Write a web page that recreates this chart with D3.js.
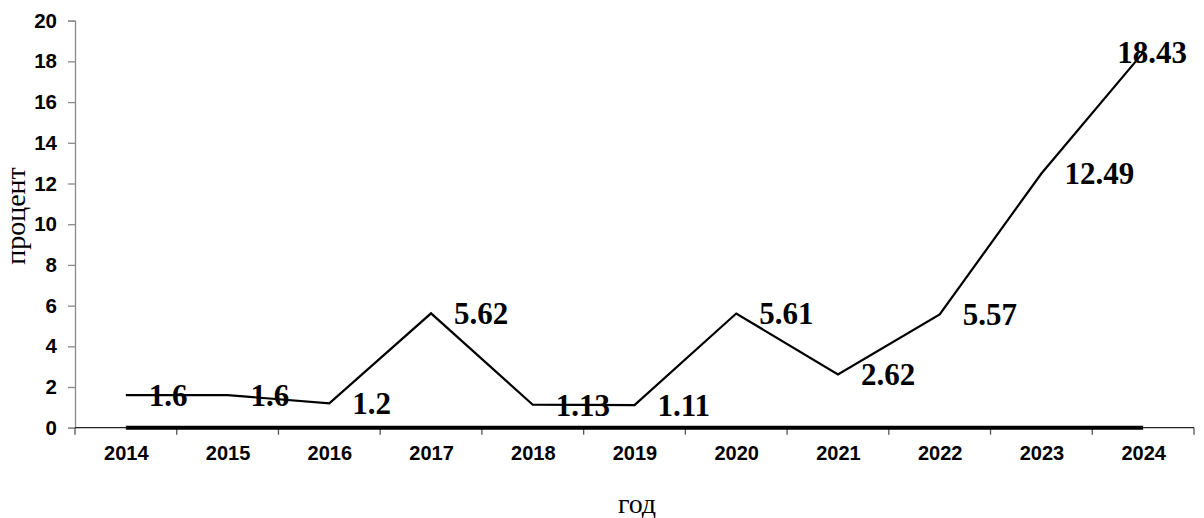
<!DOCTYPE html>
<html>
<head>
<meta charset="utf-8">
<script src="https://cdn.jsdelivr.net/npm/d3@7"></script>
<style>
  body { margin: 0; background: #fff; }
  svg { display: block; }
</style>
</head>
<body>
<div id="chart"></div>
<script>
// data
const years = ['2014','2015','2016','2017','2018','2019','2020','2021','2022','2023','2024'];
const values = [1.6, 1.6, 1.2, 5.62, 1.13, 1.11, 5.61, 2.62, 5.57, 12.49, 18.43];
const baseline = [0, 0, 0, 0, 0, 0, 0, 0, 0, 0, 0];
const yTicks = [0, 2, 4, 6, 8, 10, 12, 14, 16, 18, 20];

const W = 1204, H = 518;
const plotLeft = 75, plotRight = 1194, plotTop = 20.7, plotBottom = 427.7;

const svg = d3.select('#chart').append('svg')
  .attr('width', W).attr('height', H);

const x = d3.scaleBand().domain(years).range([plotLeft, plotRight]).padding(0);
const y = d3.scaleLinear().domain([0, 20]).range([plotBottom, plotTop]);
const cx = d => x(d) + x.bandwidth() / 2;

// Y axis
const yAxis = svg.append('g')
  .attr('transform', `translate(${plotLeft},0)`)
  .call(d3.axisLeft(y).tickValues(yTicks).tickSize(7).tickPadding(11).tickFormat(d3.format('d')));
yAxis.select('.domain').attr('stroke', '#8a8a8a').attr('stroke-width', 1.3);
yAxis.selectAll('.tick line').attr('stroke', '#8a8a8a').attr('stroke-width', 1.3);
yAxis.selectAll('text')
  .attr('font-family', 'Liberation Sans, Arial, sans-serif')
  .attr('font-weight', 'bold').attr('font-size', 20.5).attr('fill', '#000');

// X axis: labels at band centres, ticks at band edges
const xAxis = svg.append('g')
  .attr('transform', `translate(0,${plotBottom})`)
  .call(d3.axisBottom(d3.scalePoint().domain(years).range([cx(years[0]), cx(years[years.length - 1])]))
    .tickSize(0).tickPadding(18));
xAxis.select('.domain').remove();
xAxis.selectAll('text')
  .attr('font-family', 'Liberation Sans, Arial, sans-serif')
  .attr('font-weight', 'bold').attr('font-size', 20).attr('fill', '#000');

const edges = years.map(d => x(d)).concat([plotRight]);
svg.append('line')
  .attr('x1', plotLeft).attr('x2', plotRight).attr('y1', plotBottom).attr('y2', plotBottom)
  .attr('stroke', '#222').attr('stroke-width', 1.3);
svg.append('g').selectAll('line')
  .data(edges)
  .join('line')
  .attr('x1', d => d).attr('x2', d => d)
  .attr('y1', plotBottom).attr('y2', plotBottom + 7)
  .attr('stroke', '#555').attr('stroke-width', 1.3);

// axis titles
svg.append('text')
  .attr('transform', `translate(25,216) rotate(-90)`)
  .attr('text-anchor', 'middle')
  .attr('font-family', 'Liberation Serif, Times New Roman, serif')
  .attr('font-size', 28)
  .text('процент');
svg.append('text')
  .attr('x', 637).attr('y', 513)
  .attr('text-anchor', 'middle')
  .attr('font-family', 'Liberation Serif, Times New Roman, serif')
  .attr('font-size', 28)
  .text('год');

const line = d3.line().x((d, i) => cx(years[i])).y(d => y(d));

// zero series (thick)
svg.append('path')
  .datum(baseline)
  .attr('d', line)
  .attr('fill', 'none').attr('stroke', '#000').attr('stroke-width', 4);

// main series
svg.append('path')
  .datum(values)
  .attr('d', line)
  .attr('fill', 'none').attr('stroke', '#000').attr('stroke-width', 2.2)
  .attr('stroke-linejoin', 'miter');

// value labels
const labels = svg.append('g').selectAll('text')
  .data(values)
  .join('text')
  .attr('x', (d, i) => cx(years[i]) + 23)
  .attr('y', d => y(d))
  .attr('dy', '0.35em')
  .attr('font-family', 'Liberation Serif, Times New Roman, serif')
  .attr('font-weight', 'bold').attr('font-size', 31).attr('fill', '#000')
  .text(d => String(d));

// keep labels inside the picture
labels.each(function() {
  const w = this.getComputedTextLength();
  const xx = +this.getAttribute('x');
  if (xx + w > W - 17) this.setAttribute('x', W - 17 - w);
});
</script>
</body>
</html>
